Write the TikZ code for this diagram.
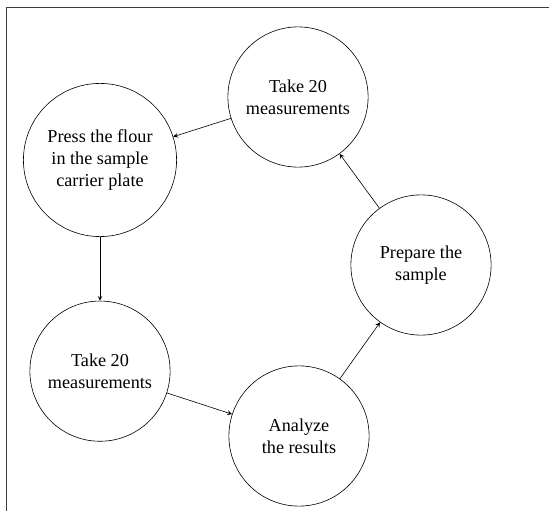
\documentclass[tikz,border=0pt]{standalone}
\usepackage{fontspec}
\setmainfont{Liberation Serif}
\usetikzlibrary{positioning}

\begin{document}
\begin{tikzpicture}[
  x=0.02318cm, y=-0.02318cm,
  every node/.style={font=\fontsize{12}{14.5}\selectfont},
  stepcirc/.style={circle, draw, minimum size=3.25cm, align=center, inner sep=2pt},
  bigcirc/.style={stepcirc, minimum size=3.55cm},
  arr/.style={-stealth},
  pageline/.style={draw=black!75, line width=0.6pt}
]
\useasboundingbox (0,0) rectangle (549,511);

% page frame, cut at the right and bottom
\draw[pageline] (6,511) -- (6,7.5) -- (549,7.5);

\node[stepcirc]                  (M1) at (298,97)  {Take 20\\measurements};
\node[bigcirc]                   (PF) at (100,160) {Press the flour\\in the sample\\carrier plate};
\node[stepcirc, below=1.48cm of PF] (M2)           {Take 20\\measurements};
\node[stepcirc]                  (AR) at (299,436) {Analyze\\the results};
\node[stepcirc]                  (PS) at (421,265) {Prepare the\\sample};

\draw[arr] (M1) -- (PF);
\draw[arr] (PF) -- (M2);
\draw[arr] (M2) -- (AR);
\draw[arr] (AR) -- (PS);
\draw[arr] (PS) -- (M1);

\end{tikzpicture}
\end{document}
